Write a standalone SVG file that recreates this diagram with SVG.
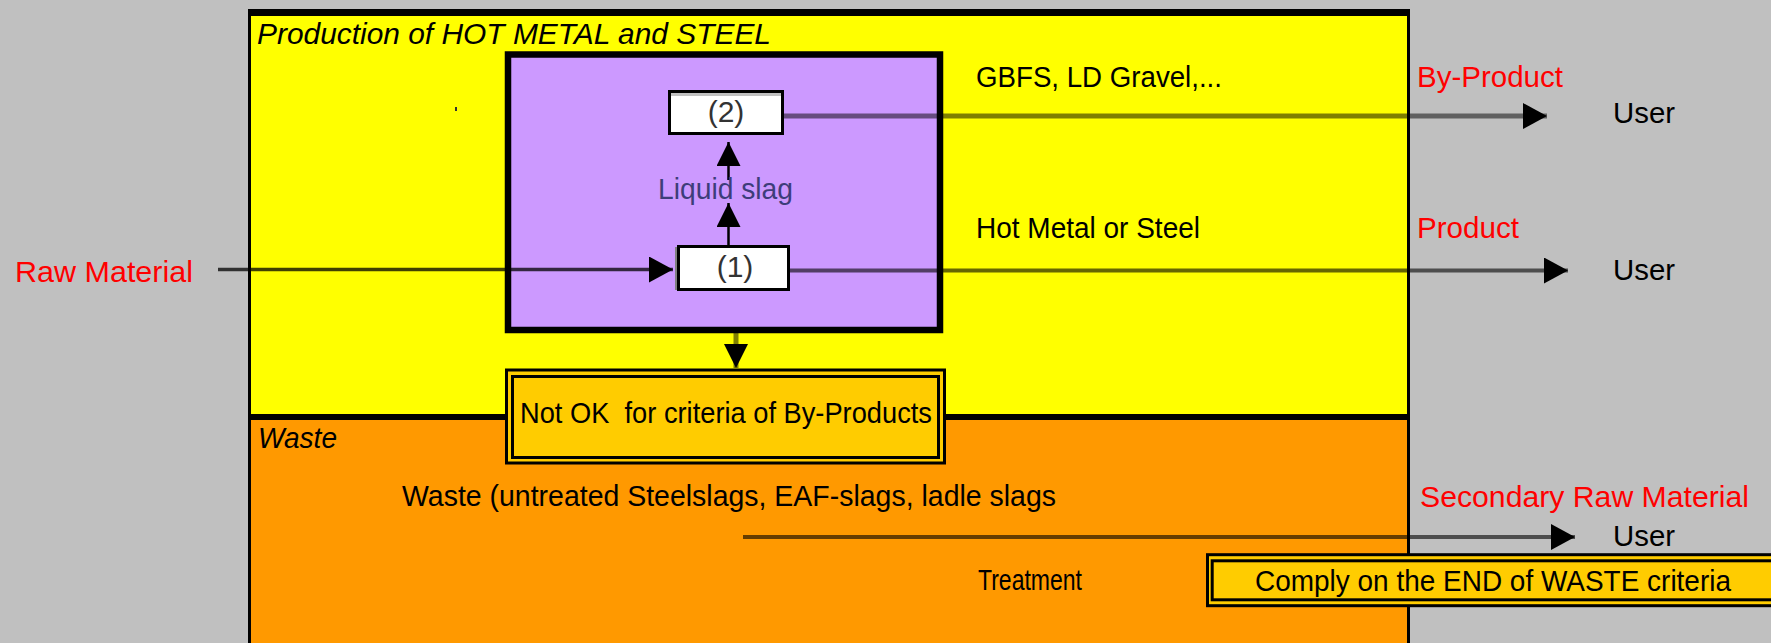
<svg xmlns="http://www.w3.org/2000/svg" width="1771" height="643" viewBox="0 0 1771 643">
  <style>
    text { font-family: "Liberation Sans", Arial, sans-serif; font-size: 29px; fill: #000; }
    .red { fill: #FF0000; }
    .it { font-style: italic; }
    .num { font-size: 30px; fill: #333; text-anchor: middle; }
    .conn { fill: none; stroke: #000; }
  </style>
  <defs>
    <marker id="ah" viewBox="0 0 24 26" refX="24" refY="13" markerWidth="24" markerHeight="26" markerUnits="userSpaceOnUse" orient="auto">
      <path d="M0,0 L24,13 L0,26 z" fill="#000"/>
    </marker>
    <marker id="ahs" viewBox="0 0 24 24" refX="24" refY="12" markerWidth="24" markerHeight="24" markerUnits="userSpaceOnUse" orient="auto">
      <path d="M0,0 L24,12 L0,24 z" fill="#000"/>
    </marker>
  </defs>

  <rect x="0" y="0" width="1771" height="643" fill="#C0C0C0"/>

  <g id="panel-production">
    <rect x="248" y="9" width="1162" height="411" fill="#FFFF00"/>
    <text x="257" y="44" class="it" font-size="30" textLength="514" lengthAdjust="spacingAndGlyphs">Production of HOT METAL and STEEL</text>
    <rect x="455" y="107" width="2" height="4" fill="#333"/>
  </g>
  <g id="panel-waste">
    <rect x="248" y="417" width="1162" height="226" fill="#FF9900"/>
    <text x="258" y="448" class="it" textLength="79" lengthAdjust="spacingAndGlyphs">Waste</text>
  </g>
  <g id="frame-lines" fill="#000">
    <rect x="248" y="9" width="1162" height="7"/>
    <rect x="248" y="9" width="3" height="634"/>
    <rect x="1407" y="9" width="3" height="634"/>
    <rect x="248" y="414" width="1162" height="6"/>
  </g>

  <g id="process">
    <rect x="508" y="54.5" width="432" height="275.5" fill="#CC99FF" stroke="#000" stroke-width="6.5"/>
  </g>

  <g id="connectors">
    <line class="conn" x1="218" y1="269.5" x2="673" y2="269.5" stroke-width="3.5" stroke-opacity="0.75" marker-end="url(#ah)"/>
    <line class="conn" x1="728.5" y1="245" x2="728.5" y2="203" stroke-width="2.5" marker-end="url(#ahs)"/>
    <line class="conn" x1="728.5" y1="180" x2="728.5" y2="142" stroke-width="2.5" marker-end="url(#ahs)"/>
    <line class="conn" x1="784" y1="116" x2="1547" y2="116" stroke-width="5" stroke-opacity="0.5" marker-end="url(#ah)"/>
    <line class="conn" x1="790" y1="270.5" x2="1568" y2="270.5" stroke-width="4" stroke-opacity="0.6" marker-end="url(#ah)"/>
    <line class="conn" x1="736" y1="333" x2="736" y2="368" stroke-width="5" stroke-opacity="0.5" marker-end="url(#ahs)"/>
    <line class="conn" x1="743" y1="537" x2="1575" y2="537" stroke-width="4" stroke-opacity="0.6" marker-end="url(#ah)"/>
  </g>

  <g id="step2">
    <rect x="669.5" y="91.5" width="113" height="42" fill="#FFFFFF" stroke="#000" stroke-width="3"/>
    <rect x="671" y="93" width="110" height="3" fill="#C0C0C0"/>
    <text x="726" y="122" class="num">(2)</text>
  </g>
  <g id="step1">
    <rect x="675" y="247" width="3" height="43" fill="#808080"/>
    <rect x="678.5" y="246.5" width="110" height="43" fill="#FFFFFF" stroke="#000" stroke-width="3"/>
    <text x="735" y="277" class="num">(1)</text>
  </g>
  <g id="label-liquid-slag">
    <text x="725.5" y="199" text-anchor="middle" style="fill:#3D3D7A" font-size="28" textLength="135" lengthAdjust="spacingAndGlyphs">Liquid slag</text>
  </g>

  <g id="not-ok">
    <rect x="506.5" y="370" width="438" height="93" fill="#FFCC00" stroke="#000" stroke-width="3"/>
    <rect x="512.5" y="376.5" width="426" height="81" fill="#FFCC00" stroke="#000" stroke-width="3"/>
    <text x="520" y="422.7" xml:space="preserve" textLength="412" lengthAdjust="spacingAndGlyphs">Not OK  for criteria of By-Products</text>
  </g>

  <g id="comply">
    <rect x="1207.5" y="554.7" width="580" height="51" fill="#FFCC00" stroke="#000" stroke-width="3"/>
    <rect x="1212.2" y="560.8" width="580" height="39" fill="#FFCC00" stroke="#000" stroke-width="3"/>
    <text x="1255" y="590.7" textLength="476" lengthAdjust="spacingAndGlyphs">Comply on the END of WASTE criteria</text>
  </g>

  <g id="labels">
    <text x="15" y="282" class="red" textLength="178" lengthAdjust="spacingAndGlyphs">Raw Material</text>
    <text x="976" y="87" textLength="246" lengthAdjust="spacingAndGlyphs">GBFS, LD Gravel,...</text>
    <text x="976" y="238" textLength="224" lengthAdjust="spacingAndGlyphs">Hot Metal or Steel</text>
    <text x="402" y="506" textLength="654" lengthAdjust="spacingAndGlyphs">Waste (untreated Steelslags, EAF-slags, ladle slags</text>
    <text x="978" y="590" font-size="23" textLength="104" lengthAdjust="spacingAndGlyphs">Treatment</text>
  </g>
  <g id="outputs">
    <text x="1417" y="87" class="red" textLength="146" lengthAdjust="spacingAndGlyphs">By-Product</text>
    <text x="1417" y="238" class="red" textLength="102" lengthAdjust="spacingAndGlyphs">Product</text>
    <text x="1420" y="506.7" class="red" textLength="329" lengthAdjust="spacingAndGlyphs">Secondary Raw Material</text>
  </g>
  <g id="users">
    <text x="1613" y="122.7" textLength="62" lengthAdjust="spacingAndGlyphs">User</text>
    <text x="1613" y="280" textLength="62" lengthAdjust="spacingAndGlyphs">User</text>
    <text x="1613" y="545.7" textLength="62" lengthAdjust="spacingAndGlyphs">User</text>
  </g>
</svg>
